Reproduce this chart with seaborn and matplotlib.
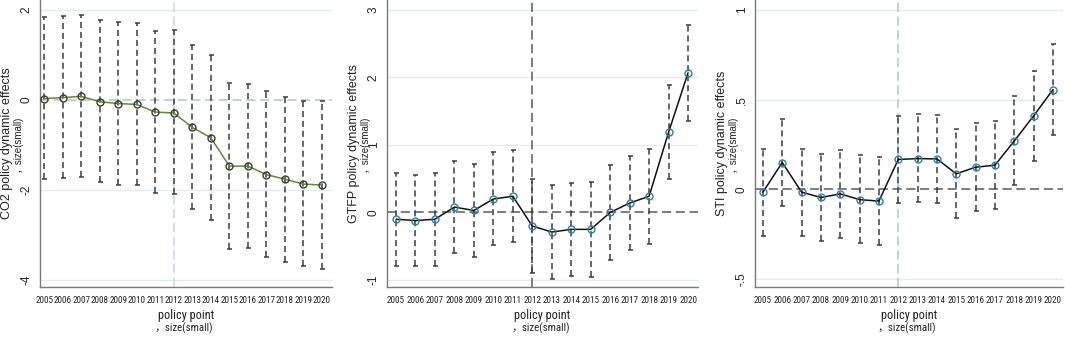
import matplotlib
matplotlib.use("Agg")
import matplotlib.pyplot as plt
import seaborn as sns
import numpy as np
import pandas as pd
from matplotlib import font_manager as fm
from matplotlib.font_manager import FontProperties

# ---------------- data ----------------
years = [2005, 2006, 2007, 2008, 2009, 2010, 2011, 2012,
         2013, 2014, 2015, 2016, 2017, 2018, 2019, 2020]
policy_year = 2012

co2_coef = [0.03, 0.05, 0.08, -0.04, -0.08, -0.10, -0.27, -0.29,
            -0.61, -0.84, -1.47, -1.47, -1.66, -1.76, -1.87, -1.89]
co2_upper = [1.84, 1.87, 1.89, 1.78, 1.73, 1.70, 1.54, 1.56,
             1.23, 0.99, 0.37, 0.36, 0.19, 0.07, -0.02, -0.02]
co2_lower = [-1.76, -1.74, -1.71, -1.82, -1.89, -1.90, -2.07, -2.10,
             -2.43, -2.67, -3.31, -3.30, -3.49, -3.60, -3.70, -3.76]

gtfp_coef = [-0.10, -0.12, -0.10, 0.08, 0.03, 0.20, 0.24, -0.20,
             -0.29, -0.25, -0.25, 0.00, 0.14, 0.24, 1.19, 2.07]
gtfp_upper = [0.58, 0.56, 0.58, 0.77, 0.72, 0.89, 0.92, 0.49,
              0.40, 0.44, 0.45, 0.70, 0.84, 0.94, 1.89, 2.78]
gtfp_lower = [-0.79, -0.80, -0.79, -0.60, -0.66, -0.48, -0.44, -0.90,
              -0.98, -0.94, -0.95, -0.70, -0.55, -0.46, 0.49, 1.36]

sti_coef = [-0.015, 0.15, -0.015, -0.045, -0.025, -0.057, -0.065, 0.167,
            0.172, 0.17, 0.087, 0.124, 0.135, 0.27, 0.41, 0.556]
sti_upper = [0.225, 0.39, 0.225, 0.195, 0.22, 0.19, 0.18, 0.41,
             0.42, 0.415, 0.335, 0.37, 0.38, 0.52, 0.66, 0.81]
sti_lower = [-0.26, -0.09, -0.26, -0.29, -0.27, -0.30, -0.31, -0.076,
             -0.07, -0.076, -0.16, -0.12, -0.11, 0.024, 0.16, 0.305]

ylabels = ["CO2 policy dynamic effects", "GTFP policy dynamic effects",
           "STI policy dynamic effects"]
sub_title = "，size(small)"
xlabel = "policy point"

co2_yticks = [-4, -2, 0, 2]
co2_yticklabels = ["-4", "-2", "0", "2"]
gtfp_yticks = [-1, 0, 1, 2, 3]
gtfp_yticklabels = ["-1", "0", "1", "2", "3"]
sti_yticks = [-0.5, 0, 0.5, 1]
sti_yticklabels = ["-.5", "0", ".5", "1"]

# ---------------- style ----------------
sns.set_theme(style="white")

# find a condensed face if one is installed
narrow_name, narrow_stretch = "Liberation Sans", "normal"
names = {f.name for f in fm.fontManager.ttflist}
for nm in ["Liberation Sans Narrow", "Roboto Condensed", "Open Sans Condensed",
           "Noto Sans Condensed", "DejaVu Sans Condensed"]:
    if nm in names:
        narrow_name = nm
        break
else:
    for f in fm.fontManager.ttflist:
        st = f.stretch
        cond = (st in ("condensed", "semi-condensed", "extra-condensed")) or \
               (isinstance(st, (int, float)) and st < 500)
        if cond and f.style == "normal" and f.weight in (400, "normal", "regular"):
            narrow_name, narrow_stretch = f.name, st
            break

base = ["Liberation Sans", "Noto Sans CJK SC", "DejaVu Sans"]
narrow_fam = [narrow_name, "Liberation Sans", "Noto Sans CJK SC", "DejaVu Sans"]
plt.rcParams["font.family"] = base

W, H = 1065, 337
fig = plt.figure(figsize=(W / 100, H / 100), dpi=100)
fig.patch.set_facecolor("white")
renderer = fig.canvas.get_renderer()

panels = [
    dict(coef=co2_coef, up=co2_upper, lo=co2_lower, yt=co2_yticks, ytl=co2_yticklabels,
         ylim=(-4.156, 2.22), xlim=(2004.78, 2020.54), px=(40, 332),
         line="#5b8c32", mec="#3a3a3a", zero="#a8cbbd", vline="#c5d8d8"),
    dict(coef=gtfp_coef, up=gtfp_upper, lo=gtfp_lower, yt=gtfp_yticks, ytl=gtfp_yticklabels,
         ylim=(-1.104, 3.148), xlim=(2004.54, 2020.51), px=(387, 698),
         line="#111111", mec="#2f7fa6", zero="#5a5a5a", vline="#5a5a5a"),
    dict(coef=sti_coef, up=sti_upper, lo=sti_lower, yt=sti_yticks, ytl=sti_yticklabels,
         ylim=(-0.544, 1.056), xlim=(2004.59, 2020.52), px=(755, 1063),
         line="#111111", mec="#2f7fa6", zero="#5a5a5a", vline="#a9c9cd"),
]


def label_width(size):
    t = fig.text(0, 0, "2008", family=narrow_fam, fontsize=size,
                 fontstretch=narrow_stretch)
    w = t.get_window_extent(renderer=renderer).width
    t.remove()
    return w


# one common tick font size so every year label fits its slot
steps = []
for p in panels:
    l, r = p["px"]
    steps.append((r - l) / (p["xlim"][1] - p["xlim"][0]))
w8 = label_width(8.0)
tick_size = min(8.5, 8.0 * 0.985 * min(steps) / w8)

bottom_px = 287
for i, p in enumerate(panels):
    l, r = p["px"]
    ax = fig.add_axes([l / W, (H - bottom_px) / H, (r - l) / W, bottom_px / H])
    ax.set_facecolor("white")
    df = pd.DataFrame({"year": years, "coef": p["coef"],
                       "up": p["up"], "lo": p["lo"]})

    # gridlines
    for yv in p["yt"]:
        if yv != 0:
            ax.axhline(yv, color="#e3ecee", lw=1.0, zorder=0)
    ax.axhline(0, color=p["zero"], lw=1.1, ls=(0, (6, 3)), zorder=1)
    ax.axvline(policy_year, color=p["vline"], lw=1.1, ls=(0, (6, 3)), zorder=1)

    # confidence intervals
    yerr = [df["coef"] - df["lo"], df["up"] - df["coef"]]
    eb = ax.errorbar(df["year"], df["coef"], yerr=yerr, fmt="none",
                     ecolor="#3c3c3c", elinewidth=1.1, capsize=1.8,
                     capthick=1.1, zorder=2)
    eb[2][0].set_linestyle((0, (4, 2.5)))

    # point estimates
    sns.lineplot(data=df, x="year", y="coef", ax=ax, color=p["line"], lw=1.1,
                 marker="o", markersize=5.0, markerfacecolor="none",
                 markeredgecolor=p["mec"], markeredgewidth=1.0, zorder=3)

    ax.set_xlim(*p["xlim"])
    ax.set_ylim(*p["ylim"])
    ax.set_xticks(years)
    ax.set_xticklabels([str(y) for y in years], family=narrow_fam,
                       fontsize=tick_size, fontstretch=narrow_stretch)
    ax.set_yticks(p["yt"])
    ax.set_yticklabels(p["ytl"], rotation=90, va="center", fontsize=8.5)
    ax.tick_params(axis="both", direction="out", length=4, width=0.9,
                   color="#6a6a6a", labelcolor="#222222")
    ax.tick_params(axis="x", pad=2.5)
    ax.tick_params(axis="y", pad=1.2)
    for s in ["top", "right"]:
        ax.spines[s].set_visible(False)
    for s in ["left", "bottom"]:
        ax.spines[s].set_color("#7a7a7a")
        ax.spines[s].set_linewidth(1.0)
    ax.set_xlabel("")
    ax.set_ylabel("")

    # y axis titles (two lines)
    ax.annotate(ylabels[i], xy=(0, 0.5), xycoords="axes fraction",
                xytext=(-33, 0), textcoords="offset pixels", rotation=90,
                ha="center", va="center", fontsize=9.0, color="#222222")
    ax.annotate(sub_title, xy=(0, 0.5), xycoords="axes fraction",
                xytext=(-22.5, 0), textcoords="offset pixels", rotation=90,
                ha="center", va="center", fontsize=7.0, color="#222222")
    # x axis titles (two lines)
    ax.annotate(xlabel, xy=(0.5, 0), xycoords="axes fraction",
                xytext=(0, -28), textcoords="offset pixels",
                ha="center", va="center", fontsize=8.8, family=narrow_fam,
                fontstretch=narrow_stretch, color="#222222")
    ax.annotate(sub_title, xy=(0.5, 0), xycoords="axes fraction",
                xytext=(-2, -41), textcoords="offset pixels",
                ha="center", va="center", fontsize=7.8, family=narrow_fam,
                fontstretch=narrow_stretch, color="#222222")

fig.savefig("out.png", dpi=100, facecolor="white")
